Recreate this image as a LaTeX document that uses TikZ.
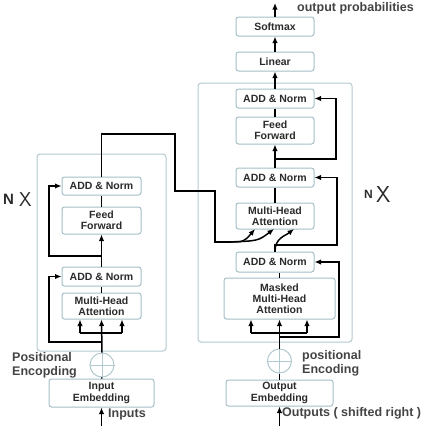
\documentclass[tikz,border=0pt]{standalone}
\usepackage{fontspec}
\setmainfont{Liberation Sans}
\usetikzlibrary{arrows.meta}
\definecolor{boxc}{HTML}{A3BEC7}
\definecolor{outc}{HTML}{B2C9D0}
\definecolor{txt}{HTML}{2B2B2B}
\definecolor{lab}{HTML}{444444}
\begin{document}
\begin{tikzpicture}[x=1pt,y=-1pt,
  blk/.style={draw=boxc, line width=1pt, rounded corners=2.5pt, fill=white,
    font=\fontsize{10.5}{11.2}\selectfont\bfseries, text=txt, align=center, inner sep=0pt},
  outer/.style={draw=outc, line width=1pt, rounded corners=3pt},
  conn/.style={line width=1.5pt, black},
  arr/.style={conn, -{Latex[length=6.5pt,width=5.5pt]}},
  lbl/.style={font=\fontsize{12.5}{14}\selectfont\bfseries, text=lab, inner sep=0pt, align=left},
  nlbl/.style={font=\fontsize{15}{16}\selectfont\bfseries, text=txt, inner sep=0pt},
  xlbl/.style={font=\fontsize{20}{20}\selectfont\sffamily, text=txt, inner sep=0pt},
  plus/.style={circle, draw=outc, line width=1pt, fill=white, minimum size=24pt, inner sep=0pt}
]
\useasboundingbox (0,0) rectangle (427,426);
% outer boxes
\draw[outer] (37,154) rectangle (166,351);
\draw[outer] (198,83) rectangle (352,342);

% encoder nodes
\node[blk, minimum width=79pt, minimum height=18pt] (eaddb) at (101.5,186) {ADD \& Norm};
\node[blk, minimum width=79pt, minimum height=27pt] (eff) at (101.5,220.5) {Feed\\Forward};
\node[blk, minimum width=79pt, minimum height=19pt] (eadda) at (101.5,276.5) {ADD \& Norm};
\node[blk, minimum width=79pt, minimum height=26pt] (emha) at (101.5,306) {Multi-Head\\Attention};
\node[blk, minimum width=105pt, minimum height=28pt] (eemb) at (101.5,393) {Input\\Embedding};
\node[plus] (epos) at (102,365) {};
\draw[outc, line width=0.7pt] (epos.north) -- (epos.south) (epos.west) -- (epos.east);

% decoder nodes
\node[blk, minimum width=78pt, minimum height=19pt] (softmax) at (275,26.5) {Softmax};
\node[blk, minimum width=78pt, minimum height=19pt] (linear) at (275,61.5) {Linear};
\node[blk, minimum width=78pt, minimum height=19pt] (daddc) at (275,98.5) {ADD \& Norm};
\node[blk, minimum width=78pt, minimum height=27pt] (dff) at (275,130.5) {Feed\\Forward};
\node[blk, minimum width=78pt, minimum height=19pt] (daddb) at (275,177.5) {ADD \& Norm};
\node[blk, minimum width=78pt, minimum height=26pt] (dmha) at (275,216) {Multi-Head\\Attention};
\node[blk, minimum width=78pt, minimum height=20pt] (dadda) at (275,262) {ADD \& Norm};
\node[blk, minimum width=111pt, minimum height=41pt] (dmmha) at (279.5,298.5) {Masked\\Multi-Head\\Attention};
\node[blk, minimum width=107pt, minimum height=26pt] (demb) at (279.5,393) {Output\\Embedding};
\node[plus] (dpos) at (279.5,361) {};
\draw[outc, line width=0.7pt] (dpos.north) -- (dpos.south) (dpos.west) -- (dpos.east);

% labels
\node[lbl, anchor=west] (lout) at (297,8) {output probabilities};
\node[lbl, anchor=west] (lepos) at (12,365) {Positional\\Encopding};
\node[lbl, anchor=west] (ldpos) at (302,363) {positional\\Encoding};
\node[lbl, anchor=west] (lin) at (108,414) {Inputs};
\node[lbl, anchor=west] (loutp) at (282,413) {Outputs ( shifted right )};
\node[nlbl, anchor=west] (nl) at (3,199.5) {N};
\node[xlbl, anchor=west] (xl) at (19,200) {X};
\node[nlbl, anchor=west, font=\fontsize{12}{13}\selectfont\bfseries] (nr) at (364,194.5) {N};
\node[xlbl, anchor=west, font=\fontsize{23}{23}\selectfont\sffamily] (xr) at (376,195) {X};

% coordinates
\coordinate (inb) at (101.5,426);
\coordinate (outb) at (279.5,426);
\coordinate (top) at (275,3);
\coordinate (ebl) at (80,333);
\coordinate (ebr) at (122,333);
\coordinate (er1) at (101.5,342);
\coordinate (el1) at (49,342);
\coordinate (er2) at (101.5,256);
\coordinate (el2) at (49,256);
\coordinate (c1) at (101.5,134);
\coordinate (c2) at (175,134);
\coordinate (c3) at (175,191);
\coordinate (c4) at (215,191);
\coordinate (c5) at (215,242);
\coordinate (c6) at (227,242);
\coordinate (t1) at (255,229);
\coordinate (t2) at (274,229);
\coordinate (t3) at (294,229);
\coordinate (dbl) at (251,333);
\coordinate (dbr) at (307,333);
\coordinate (dr1) at (279.5,337);
\coordinate (dr1r) at (339,337);
\coordinate (dj) at (275,245);
\coordinate (djr) at (337,245);
\coordinate (dk) at (275,159);
\coordinate (dkr) at (336,159);

% encoder connectors
\draw[arr] (inb) -- (eemb.south);
\draw[conn] (eemb.north) -- (epos.south);
\draw[arr] (epos.north) -- (emha.south);
\draw[conn] (ebl) -- (ebr);
\draw[arr] (ebl) -- (ebl |- emha.south);
\draw[arr] (ebr) -- (ebr |- emha.south);
\draw[arr] (er1) -- (el1) |- (eadda.west);
\draw[conn] (emha.north) -- (eadda.south);
\draw[arr] (eadda.north) -- (eff.south);
\draw[arr] (er2) -- (el2) |- (eaddb.west);
\draw[conn] (eff.north) -- (eaddb.south);
\draw[conn] (eaddb.north) -- (c1) -- (c2) -- (c3) -- (c4) -- (c5) -- (c6);
\draw[arr] (c6) .. controls (244,242) .. (t1);
\draw[arr] (c6) .. controls (258,241) .. (t2);

% decoder connectors
\draw[arr] (outb) -- (demb.south);
\draw[conn] (demb.north) -- (dpos.south);
\draw[arr] (dpos.north) -- (dmmha.south);
\draw[conn] (dbl) -- (dbr);
\draw[arr] (dbl) -- (dbl |- dmmha.south);
\draw[arr] (dbr) -- (dbr |- dmmha.south);
\draw[arr] (dr1) -- (dr1r) |- (dadda.east);
\draw[conn] (dmmha.north) -- (dmmha.north |- dadda.south);
\draw[arr] (dadda.north) .. controls (275,238) and (285,236) .. (t3);
\draw[arr] (dadda.north) -- (dj) -- (djr) |- (daddb.east);
\draw[conn] (dmha.north) -- (daddb.south);
\draw[arr] (daddb.north) -- (dff.south);
\draw[arr] (dk) -- (dkr) |- (daddc.east);
\draw[conn] (dff.north) -- (daddc.south);
\draw[arr] (daddc.north) -- (linear.south);
\draw[arr] (linear.north) -- (softmax.south);
\draw[arr] (softmax.north) -- (top);
\end{tikzpicture}
\end{document}
